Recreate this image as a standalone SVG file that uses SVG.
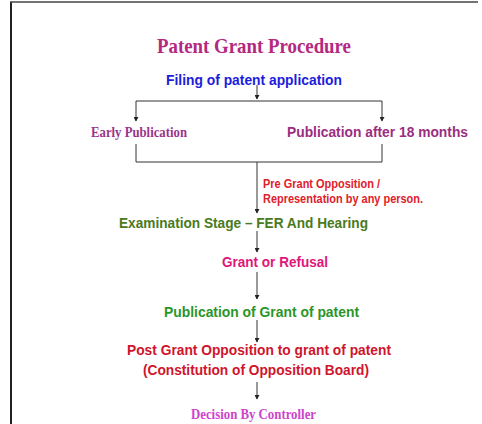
<svg xmlns="http://www.w3.org/2000/svg" width="482" height="424" viewBox="0 0 482 424">
<defs>
<marker id="ah" markerWidth="5" markerHeight="5" refX="4" refY="2.5" orient="auto" markerUnits="userSpaceOnUse">
<path d="M0,0 L4.5,2.5 L0,5 Z" fill="#222"/>
</marker>
<style>
.sans{font-family:"Liberation Sans",Arial,sans-serif;font-weight:bold;}
.serif{font-family:"Liberation Serif","Times New Roman",serif;font-weight:bold;}
.ln{stroke:#333;stroke-width:1;fill:none;}
.ar{stroke:#333;stroke-width:1;fill:none;marker-end:url(#ah);}
</style>
</defs>
<rect width="482" height="424" fill="#fff"/>
<g id="frame">
<line x1="11" y1="2" x2="11" y2="424" stroke="#222" stroke-width="2"/>
<line x1="10" y1="2" x2="478" y2="2" stroke="#444" stroke-width="1.5"/>
</g>
<g id="title"><text class="serif" x="254" y="53" font-size="21" fill="#b3297f" text-anchor="middle" textLength="194" lengthAdjust="spacingAndGlyphs">Patent Grant Procedure</text></g>
<g id="connectors">
<line class="ar" x1="257" y1="85" x2="257" y2="99"/>
<line class="ln" x1="136" y1="101" x2="382" y2="101"/>
<line class="ar" x1="136" y1="101" x2="136" y2="121"/>
<line class="ar" x1="382" y1="101" x2="382" y2="121"/>
<polyline class="ln" points="136,144 136,162 382,162 382,144"/>
<line class="ar" x1="257" y1="162" x2="257" y2="213"/>
<line class="ar" x1="257" y1="231" x2="257" y2="252"/>
<line class="ar" x1="257" y1="272" x2="257" y2="299"/>
<line class="ar" x1="257" y1="320" x2="257" y2="342"/>
<line class="ar" x1="257" y1="382" x2="257" y2="399"/>
</g>
<g id="filing"><text class="sans" x="254" y="85" font-size="15" fill="#1c1cdc" text-anchor="middle" textLength="176" lengthAdjust="spacingAndGlyphs">Filing of patent application</text></g>
<g id="early"><text class="serif" x="139" y="137" font-size="14.5" fill="#9a358b" text-anchor="middle" textLength="96" lengthAdjust="spacingAndGlyphs">Early Publication</text></g>
<g id="after18"><text class="sans" x="377.5" y="137" font-size="14" fill="#9b2d7f" text-anchor="middle" textLength="181" lengthAdjust="spacingAndGlyphs">Publication after 18 months</text></g>
<g id="pregrant">
<text class="sans" x="263" y="188" font-size="12" fill="#e0202a" textLength="117" lengthAdjust="spacingAndGlyphs">Pre Grant Opposition /</text>
<text class="sans" x="263" y="203" font-size="12" fill="#e0202a" textLength="160" lengthAdjust="spacingAndGlyphs">Representation by any person.</text>
</g>
<g id="exam"><text class="sans" x="243.5" y="228" font-size="15" fill="#4a7a20" text-anchor="middle" textLength="249" lengthAdjust="spacingAndGlyphs">Examination Stage – FER And Hearing</text></g>
<g id="grant"><text class="sans" x="275" y="267" font-size="15" fill="#e0157a" text-anchor="middle" textLength="106" lengthAdjust="spacingAndGlyphs">Grant or Refusal</text></g>
<g id="pubgrant"><text class="sans" x="261.5" y="317" font-size="15" fill="#2a962a" text-anchor="middle" textLength="195" lengthAdjust="spacingAndGlyphs">Publication of Grant of patent</text></g>
<g id="postgrant">
<text class="sans" x="259" y="355" font-size="15" fill="#d0142c" text-anchor="middle" textLength="264" lengthAdjust="spacingAndGlyphs">Post Grant Opposition to grant of patent</text>
<text class="sans" x="256" y="375" font-size="15" fill="#d0142c" text-anchor="middle" textLength="226" lengthAdjust="spacingAndGlyphs">(Constitution of Opposition Board)</text>
</g>
<g id="decision"><text class="serif" x="253.5" y="419" font-size="14.5" fill="#cc44cc" text-anchor="middle" textLength="125" lengthAdjust="spacingAndGlyphs">Decision By Controller</text></g>
</svg>
